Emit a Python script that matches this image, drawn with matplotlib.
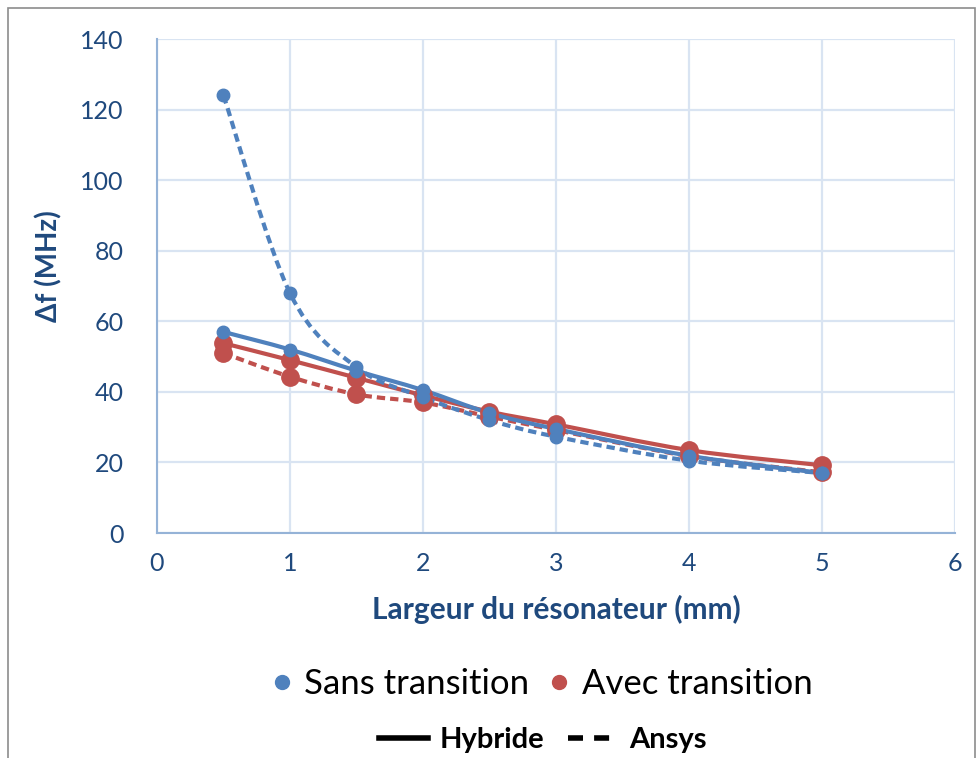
import numpy as np
import matplotlib.pyplot as plt
from matplotlib.path import Path
from matplotlib.patches import PathPatch, Rectangle
from matplotlib.lines import Line2D

# largeur du résonateur (mm)
largeur = [0.5, 1, 1.5, 2, 2.5, 3, 4, 5]

# delta f (MHz)
sans_hybride = [57, 52, 46, 40.5, 34, 29.5, 21.9, 17]
sans_ansys = [124, 68, 47, 38.5, 32, 27.3, 20.5, 17]
avec_hybride = [53.8, 49, 44, 39, 34.4, 30.8, 23.5, 19.2]
avec_ansys = [51, 44.3, 39.3, 37, 33, 29.2, 21.8, 17.2]

BLUE = "#4F81BD"
RED = "#C0504D"
NAVY = "#1F497D"
GRID = "#D9E4F2"
SPINE = "#95B3D7"

plt.rcParams['font.family'] = ['Lato', 'DejaVu Sans']


def smooth_path(xs, ys):
    # courbe lissée façon Excel (bezier passant par les points)
    p = np.column_stack([xs, ys]).astype(float)
    n = len(p)
    verts = [p[0]]
    codes = [Path.MOVETO]
    for i in range(n - 1):
        p_prev = p[i - 1] if i > 0 else p[i]
        p_next = p[i + 2] if i + 2 < n else p[i + 1]
        c1 = p[i] + (p[i + 1] - p_prev) / 6.0
        c2 = p[i + 1] - (p_next - p[i]) / 6.0
        verts += [c1, c2, p[i + 1]]
        codes += [Path.CURVE4] * 3
    return Path(verts, codes)


def draw_series(ax, xs, ys, color, dashed, msize):
    ls = (0, (2, 1.2)) if dashed else '-'
    patch = PathPatch(smooth_path(xs, ys), fill=False, edgecolor=color,
                      linewidth=3, linestyle=ls, capstyle='butt', zorder=3)
    ax.add_patch(patch)
    ax.plot(xs, ys, linestyle='none', marker='o', markersize=msize,
            color=color, zorder=4)


fig = plt.figure(figsize=(9.78, 7.58), dpi=100)
ax = fig.add_axes([0.1605, 0.2968, 0.816, 0.6517])

draw_series(ax, largeur, avec_ansys, RED, True, 12.5)
draw_series(ax, largeur, avec_hybride, RED, False, 12.5)
draw_series(ax, largeur, sans_ansys, BLUE, True, 9)
draw_series(ax, largeur, sans_hybride, BLUE, False, 9)

ax.set_xlim(0, 6)
ax.set_ylim(0, 140)
ax.set_xticks(range(0, 7))
ax.set_yticks(range(0, 141, 20))
ax.grid(True, color=GRID, linewidth=1.6)
ax.set_axisbelow(True)
for side in ['top', 'right']:
    ax.spines[side].set_visible(False)
for side in ['left', 'bottom']:
    ax.spines[side].set_color(SPINE)
    ax.spines[side].set_linewidth(1.5)
ax.tick_params(length=0, labelsize=18, labelcolor=NAVY)
ax.tick_params(axis='x', pad=14)
ax.tick_params(axis='y', pad=24)

ax.set_xlabel("Largeur du résonateur (mm)", fontsize=21.5, fontweight='bold',
              color=NAVY, labelpad=14)
ax.set_ylabel("Δf (MHz)", fontsize=20, fontweight='bold', color=NAVY)
ax.yaxis.set_label_coords(-0.119, 0.54)

# legende des couleurs
h1 = [Line2D([], [], linestyle='none', marker='o', markersize=10, color=BLUE),
      Line2D([], [], linestyle='none', marker='o', markersize=10, color=RED)]
fig.legend(h1, ["Sans transition", "Avec transition"], loc='center',
           bbox_to_anchor=(0.555, 1 - 684 / 758), ncol=2, frameon=False,
           fontsize=25, handlelength=0.5, handletextpad=0.4, columnspacing=0.6)

# legende des styles
h2 = [Line2D([], [], color='black', linewidth=4),
      Line2D([], [], color='black', linewidth=4, linestyle=(0, (2.7, 2.0)))]
fig.legend(h2, ["Hybride", "Ansys"], loc='center',
           bbox_to_anchor=(0.555, 1 - 740 / 758), ncol=2, frameon=False,
           prop={'size': 21, 'weight': 'bold'}, handlelength=1.7,
           handletextpad=0.4, columnspacing=0.8)

# cadre gris autour du graphique
fig.patches.append(Rectangle((8 / 978, -0.05), 967 / 978, 1.05 - 8 / 758,
                             transform=fig.transFigure, fill=False,
                             edgecolor='#8C8C8C', linewidth=1.2))

fig.savefig("out.png", dpi=100)
